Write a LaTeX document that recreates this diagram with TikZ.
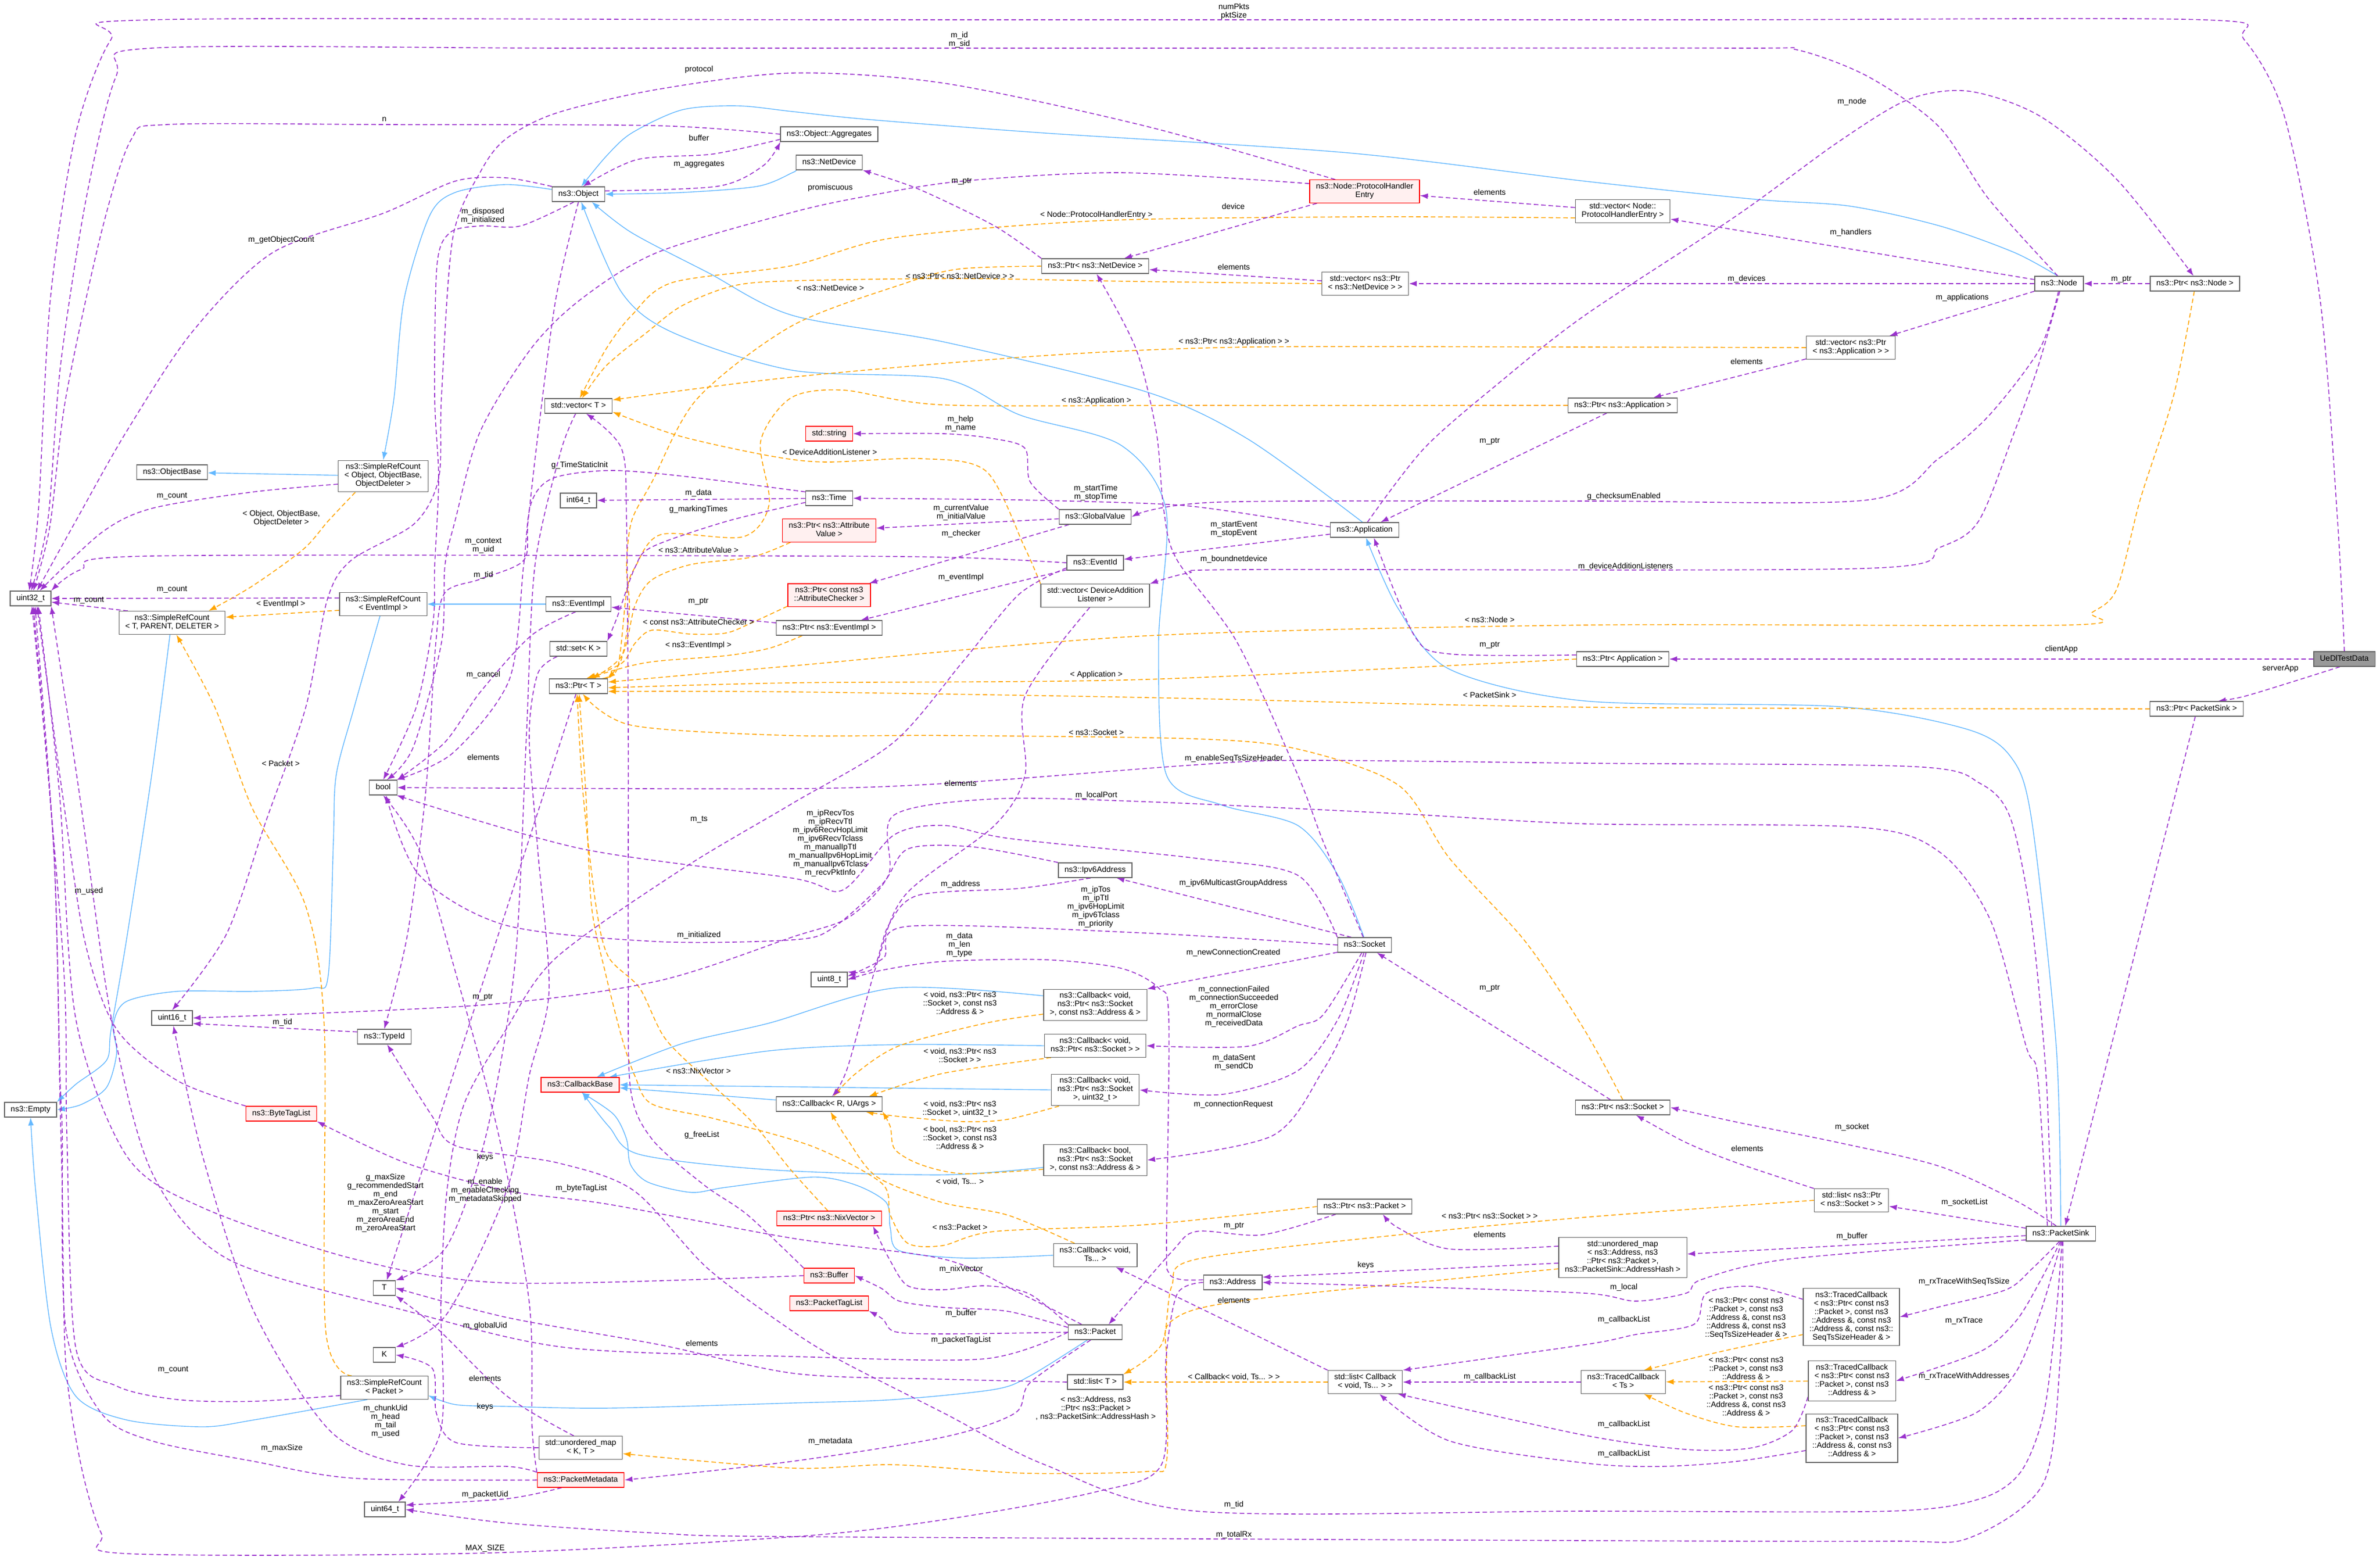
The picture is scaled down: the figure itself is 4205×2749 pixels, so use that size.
\documentclass[tikz,border=0pt]{standalone}
\usepackage{fontspec}
\setmainfont{Liberation Sans}
\usetikzlibrary{arrows.meta}
\definecolor{usecol}{HTML}{9A32CD}
\definecolor{instcol}{HTML}{FFA500}
\definecolor{inhcol}{HTML}{63B8FF}
\definecolor{boxborder}{HTML}{666666}
\definecolor{truncfill}{HTML}{FFF0F0}
\definecolor{selffill}{HTML}{999999}
\newcommand{\dgfont}{\fontsize{14}{15}\selectfont}
\pgfdeclarelayer{bg}
\pgfdeclarelayer{edges}
\pgfsetlayers{bg,edges,main}
\tikzset{
  clsbox/.style={draw=boxborder, fill=white, line width=1.3pt, inner xsep=11pt, inner ysep=5.5pt,
    minimum height=26pt, minimum width=39pt, align=center, font=\dgfont,
    execute at begin node=\strut, execute at end node=\strut},
  truncbox/.style={clsbox, draw=red, fill=truncfill},
  selfbox/.style={clsbox, fill=selffill},
  edgelbl/.style={font=\dgfont, align=center, inner sep=0pt},
  membedge/.style={draw=usecol, line width=1.6pt, dash pattern=on 8pt off 5pt, -{Latex[length=14pt,width=10pt]}},
  tmpledge/.style={draw=instcol, line width=1.6pt, dash pattern=on 8pt off 5pt, -{Latex[length=14pt,width=10pt]}},
  inhedge/.style={draw=inhcol, line width=1.4pt, -{Latex[length=14pt,width=10pt]}}
}
\begin{document}
\begin{tikzpicture}[x=1pt,y=-1pt]
\useasboundingbox (0,0) rectangle (4205,2749);
\begin{pgfonlayer}{bg}
\fill[white] (0,0) rectangle (4205,2749);
\end{pgfonlayer}
\node[clsbox] (obj) at (1022,343) {ns3::Object};
\node[clsbox] (aggr) at (1465,237) {ns3::Object::Aggregates};
\node[clsbox] (netdev) at (1465,287) {ns3::NetDevice};
\node[clsbox] (vect) at (1022,717) {std::vector< T >};
\node[clsbox] (objbase) at (304,834) {ns3::ObjectBase};
\node[clsbox] (srcobj) at (677,841) {ns3::SimpleRefCount\\< Object, ObjectBase,\\ObjectDeleter >};
\node[clsbox] (int64) at (1022,884) {int64\_t};
\node[clsbox] (uint32) at (54,1057) {uint32\_t};
\node[clsbox] (srct) at (304,1100) {ns3::SimpleRefCount\\< T, PARENT, DELETER >};
\node[clsbox] (srcev) at (677,1067) {ns3::SimpleRefCount\\< EventImpl >};
\node[clsbox] (evimpl) at (1022,1067) {ns3::EventImpl};
\node[clsbox] (setk) at (1022,1146) {std::set< K >};
\node[clsbox] (ptrt) at (1022,1212) {ns3::Ptr< T >};
\node[clsbox] (boolt) at (677,1391) {bool};
\node[clsbox] (uint16) at (304,1798) {uint16\_t};
\node[clsbox] (empty) at (54,1960) {ns3::Empty};
\node[clsbox] (typeid) at (679,1831) {ns3::TypeId};
\node[truncbox] (btl) at (497,1967) {ns3::ByteTagList};
\node[truncbox] (cbbase) at (1025,1916) {ns3::CallbackBase};
\node[clsbox] (tt) at (679,2275) {T};
\node[clsbox] (kk) at (679,2393) {K};
\node[clsbox] (srcpkt) at (679,2451) {ns3::SimpleRefCount\\< Packet >};
\node[clsbox] (umapkt) at (1026,2557) {std::unordered\_map\\< K, T >};
\node[truncbox] (pmeta) at (1026,2614) {ns3::PacketMetadata};
\node[clsbox] (uint64) at (680,2666) {uint64\_t};
\node[truncbox] (phe) at (2411,338) {ns3::Node::ProtocolHandler\\Entry};
\node[clsbox] (vecphe) at (2867,373) {std::vector< Node::\\ProtocolHandlerEntry >};
\node[clsbox] (ptrnd) at (1935,470) {ns3::Ptr< ns3::NetDevice >};
\node[clsbox] (vecnd) at (2412,501) {std::vector< ns3::Ptr\\< ns3::NetDevice > >};
\node[truncbox] (string) at (1465,766) {std::string};
\node[clsbox] (time) at (1465,880) {ns3::Time};
\node[clsbox] (gval) at (1935,913) {ns3::GlobalValue};
\node[truncbox] (ptrav) at (1465,937) {ns3::Ptr< ns3::Attribute\\Value >};
\node[truncbox] (ptrac) at (1465,1051) {ns3::Ptr< const ns3\\::AttributeChecker >};
\node[clsbox] (ptrev) at (1465,1109) {ns3::Ptr< ns3::EventImpl >};
\node[clsbox] (evid) at (1935,994) {ns3::EventId};
\node[clsbox] (vecdal) at (1935,1052) {std::vector< DeviceAddition\\Listener >};
\node[clsbox] (app) at (2411,936) {ns3::Application};
\node[clsbox] (node) at (3638,501) {ns3::Node};
\node[clsbox] (ptrnode) at (3878,501) {ns3::Ptr< ns3::Node >};
\node[clsbox] (vecapp) at (3270,614) {std::vector< ns3::Ptr\\< ns3::Application > >};
\node[clsbox] (ptrapp) at (2867,716) {ns3::Ptr< ns3::Application >};
\node[selfbox] (uedl) at (4142,1164) {UeDlTestData};
\node[clsbox] (ptrapp2) at (2867,1164) {ns3::Ptr< Application >};
\node[clsbox] (ptrsink) at (3881,1252) {ns3::Ptr< PacketSink >};
\node[clsbox] (ipv6) at (1935,1537) {ns3::Ipv6Address};
\node[clsbox] (socket) at (2411,1669) {ns3::Socket};
\node[clsbox] (uint8) at (1465,1730) {uint8\_t};
\node[clsbox] (cbsa) at (1935,1775) {ns3::Callback< void,\\ns3::Ptr< ns3::Socket\\>, const ns3::Address \& >};
\node[clsbox] (cbs) at (1935,1847) {ns3::Callback< void,\\ns3::Ptr< ns3::Socket > >};
\node[clsbox] (cbr) at (1465,1950) {ns3::Callback< R, UArgs >};
\node[clsbox] (cbsu) at (1935,1925) {ns3::Callback< void,\\ns3::Ptr< ns3::Socket\\>, uint32\_t >};
\node[clsbox] (cbb) at (1935,2049) {ns3::Callback< bool,\\ns3::Ptr< ns3::Socket\\>, const ns3::Address \& >};
\node[truncbox] (ptrnix) at (1465,2152) {ns3::Ptr< ns3::NixVector >};
\node[clsbox] (cbts) at (1935,2217) {ns3::Callback< void,\\Ts... >};
\node[truncbox] (buffer) at (1465,2253) {ns3::Buffer};
\node[truncbox] (ptl) at (1465,2302) {ns3::PacketTagList};
\node[clsbox] (packet) at (1935,2353) {ns3::Packet};
\node[clsbox] (listt) at (1935,2441) {std::list< T >};
\node[clsbox] (ptrpkt) at (2411,2131) {ns3::Ptr< ns3::Packet >};
\node[clsbox] (address) at (2178,2265) {ns3::Address};
\node[clsbox] (listcb) at (2412,2441) {std::list< Callback\\< void, Ts... > >};
\node[clsbox] (umapaddr) at (2867,2221) {std::unordered\_map\\< ns3::Address, ns3\\::Ptr< ns3::Packet >,\\ns3::PacketSink::AddressHash >};
\node[clsbox] (ptrsock) at (2867,1956) {ns3::Ptr< ns3::Socket >};
\node[clsbox] (listsock) at (3271,2120) {std::list< ns3::Ptr\\< ns3::Socket > >};
\node[clsbox] (sink) at (3641,2179) {ns3::PacketSink};
\node[clsbox] (tc1) at (3271,2326) {ns3::TracedCallback\\< ns3::Ptr< const ns3\\::Packet >, const ns3\\::Address \&, const ns3\\::Address \&, const ns3::\\SeqTsSizeHeader \& >};
\node[clsbox] (tcts) at (2868,2441) {ns3::TracedCallback\\< Ts >};
\node[clsbox] (tc2) at (3272,2439) {ns3::TracedCallback\\< ns3::Ptr< const ns3\\::Packet >, const ns3\\::Address \& >};
\node[clsbox] (tc3) at (3272,2540) {ns3::TracedCallback\\< ns3::Ptr< const ns3\\::Packet >, const ns3\\::Address \&, const ns3\\::Address \& >};
\begin{pgfonlayer}{edges}
\draw[inhedge] plot[smooth] coordinates {(obj.170) (893,326) (804,340) (759,381) (714,528) (696,704) (srcobj.north)};
\draw[inhedge] (srcobj) -- (objbase);
\draw[inhedge] (evimpl) -- (srcev);
\draw[inhedge] plot[smooth] coordinates {(srct.-100) (268,1369) (223,1663) (196,1820) (188,1873) (134,1915) (empty.north east)};
\draw[inhedge] plot[smooth] coordinates {(srcev.-105) (625,1252) (594,1369) (589,1487) (580,1722) (554,1745) (446,1751) (312,1751) (223,1769) (200,1810) (206,1861) (188,1921) (143,1951) (empty.east)};
\draw[inhedge] plot[smooth] coordinates {(srcpkt.-145) (448,2508) (358,2520) (224,2508) (134,2466) (90,2345) (63,2103) (empty.south)};
\draw[inhedge] plot[smooth] coordinates {(netdev.south west) (1400,305) (1339,329) (1205,340) (obj.east)};
\draw[inhedge] plot[smooth] coordinates {(node.100) (3559,446) (3427,399) (3268,364) (3101,352) (2800,320) (2382,270) (1846,235) (1534,211) (1400,197) (1304,187) (1205,194) (1116,235) (1071,276) (obj.70)};
\draw[inhedge] plot[smooth] coordinates {(app.105) (2204,775) (2025,692) (1668,604) (1400,557) (1250,481) (1116,411) (obj.-30)};
\draw[inhedge] plot[smooth] coordinates {(socket.95) (2364,1546) (2293,1458) (2159,1422) (2061,1369) (2047,1135) (2060,900) (1980,786) (1802,733) (1668,669) (1400,654) (1188,587) (1098,516) (obj.-70)};
\draw[inhedge] plot[smooth] coordinates {(sink.90) (3633,1849) (3589,1445) (3552,1336) (3472,1287) (3248,1248) (2800,1238) (2561,1182) (2471,1076) (app.-80)};
\draw[inhedge] plot[smooth] coordinates {(cbsa.170) (1581,1745) (1359,1807) (1206,1843) (cbbase.25)};
\draw[inhedge] plot[smooth] coordinates {(cbs.west) (1589,1845) (1359,1856) (cbbase.15)};
\draw[inhedge] (cbsu.west) -- (cbbase.east);
\draw[inhedge] (cbr) -- (cbbase);
\draw[inhedge] plot[smooth] coordinates {(cbb.-172) (1665,2075) (1359,2066) (1130,2039) (1076,1990) (cbbase.-75)};
\draw[inhedge] plot[smooth] coordinates {(cbts.west) (1703,2222) (1589,2209) (1573,2169) (1566,2124) (1512,2093) (1436,2079) (1283,2097) (1221,2106) (1145,2088) (1114,2057) (1107,2012) (1084,1968) (cbbase.-80)};
\draw[inhedge] plot[smooth] coordinates {(packet.-135) (1820,2430) (1757,2454) (1579,2472) (1400,2478) (1075,2487) (896,2484) (806,2481) (srcpkt.-10)};
\draw[tmpledge] plot[smooth] coordinates {(vecphe.-172) (2400,383) (1937,390) (1579,420) (1400,469) (1188,499) (1116,557) (1071,616) (vect.80)};
\draw[tmpledge] plot[smooth] coordinates {(vecnd.west) (2000,497) (1695,492) (1400,496) (1295,505) (1205,540) (1143,587) (1071,646) (vect.65)};
\draw[tmpledge] plot[smooth] coordinates {(ptrnd.west) (1695,475) (1600,500) (1400,575) (1232,704) (1152,851) (1116,920) (1107,1000) (1112,1076) (1098,1164) (ptrt.15)};
\draw[tmpledge] plot[smooth] coordinates {(vecapp.west) (2800,613) (2204,613) (1846,628) (1400,666) (vect.10)};
\draw[tmpledge] plot[smooth] coordinates {(ptrapp.west) (2100,716) (1665,715) (1489,689) (1397,703) (1344,779) (1359,890) (1313,948) (1168,944) (1122,1002) (1107,1046) (1091,1180) (ptrt.20)};
\draw[tmpledge] plot[smooth] coordinates {(vecdal.north west) (1810,966) (1742,832) (1627,810) (1458,816) (1359,805) (1200,770) (vect.-10)};
\draw[tmpledge] plot[smooth] coordinates {(ptrav.-163) (1328,984) (1221,997) (1152,1024) (1122,1069) (1099,1158) (ptrt.30)};
\draw[tmpledge] plot[smooth] coordinates {(ptrac.-165) (1328,1100) (1283,1118) (1221,1120) (1152,1113) (1122,1136) (1099,1171) (ptrt.40)};
\draw[tmpledge] plot[smooth] coordinates {(ptrev.-164) (1359,1145) (1283,1158) (1168,1167) (1114,1176) (ptrt.45)};
\draw[tmpledge] plot[smooth] coordinates {(ptrnode.-95) (3840,700) (3782,880) (3740,1040) (3696,1082) (3651,1104) (2800,1104) (2025,1123) (1400,1176) (ptrt.8)};
\draw[tmpledge] plot[smooth] coordinates {(ptrapp2.west) (2025,1200) (1400,1206) (ptrt.-3)};
\draw[tmpledge] plot[smooth] coordinates {(ptrsink.west) (2800,1249) (2025,1232) (1400,1222) (ptrt.-10)};
\draw[tmpledge] plot[smooth] coordinates {(ptrsock.north) (2800,1820) (2695,1663) (2561,1516) (2471,1387) (2293,1323) (2114,1305) (1668,1299) (1393,1299) (1116,1281) (ptrt.-60)};
\draw[tmpledge] plot[smooth] coordinates {(ptrnix.100) (1397,2066) (1328,1981) (1252,1910) (1175,1834) (1130,1745) (1075,1690) (1053,1600) (1030,1400) (ptrt.-100)};
\draw[tmpledge] plot[smooth] coordinates {(ptrpkt.west) (2025,2163) (1757,2175) (1665,2200) (1604,2196) (1573,2146) (1558,2090) (1436,2025) (1267,1977) (1152,1950) (1122,1901) (1099,1834) (1070,1720) (1045,1600) (1035,1400) (ptrt.-85)};
\draw[tmpledge] plot[smooth] coordinates {(cbsa.-170) (1742,1807) (1589,1847) (1512,1896) (cbr.60)};
\draw[tmpledge] plot[smooth] coordinates {(cbs.-165) (1665,1896) (cbr.11)};
\draw[tmpledge] plot[smooth] coordinates {(cbsu.-156) (1780,1977) (1703,1981) (1589,1972) (cbr.-12)};
\draw[tmpledge] plot[smooth] coordinates {(cbb.-170) (1703,2073) (1627,2057) (1581,2030) (1573,1990) (cbr.-8)};
\draw[tmpledge] plot[smooth] coordinates {(cbts.150) (1780,2146) (1665,2124) (1550,2079) (1497,2012) (cbr.-80)};
\draw[tmpledge] plot[smooth] coordinates {(listsock.west) (2800,2150) (2471,2181) (2114,2224) (2070,2272) (2052,2375) (listt.north east)};
\draw[tmpledge] plot[smooth] coordinates {(umapaddr.-170) (2204,2296) (2070,2333) (2061,2405) (2061,2581) (2025,2599) (1811,2602) (1579,2587) (1400,2593) (umapkt.-8)};
\draw[tmpledge] (listcb) -- (listt);
\draw[tmpledge] plot[smooth] coordinates {(tc1.-160) (3096,2375) (3015,2393) (tcts.30)};
\draw[tmpledge] (tc2) -- (tcts);
\draw[tmpledge] plot[smooth] coordinates {(tc3.165) (3069,2520) (2979,2496) (tcts.-30)};
\draw[tmpledge] plot[smooth] coordinates {(srcobj.-150) (580,920) (536,970) (446,1035) (srct.18)};
\draw[tmpledge] (srcev.-172) -- (srct.6);
\draw[tmpledge] plot[smooth] coordinates {(srcpkt.160) (575,2345) (573,1816) (540,1600) (446,1428) (380,1250) (srct.-70)};
\draw[membedge] plot[smooth] coordinates {(uedl.north) (4130,920) (4099,528) (4036,205) (3965,70) (3893,35) (3000,35) (1500,35) (268,35) (196,70) (134,235) (89,528) (68,900) (uint32.100)};
\draw[membedge] plot[smooth] coordinates {(node.100) (3514,352) (3425,223) (3300,135) (3175,88) (3068,85) (2000,85) (1000,85) (268,85) (205,135) (152,352) (107,645) (85,915) (uint32.85)};
\draw[membedge] plot[smooth] coordinates {(phe.158) (2025,223) (1668,147) (1400,129) (1161,158) (982,200) (893,246) (848,305) (800,420) (780,700) (775,845) (732,925) (620,990) (578,1060) (540,1250) (470,1450) (400,1650) (uint16.north)};
\draw[membedge] plot[smooth] coordinates {(aggr.west) (1161,222) (679,220) (295,220) (232,246) (179,411) (116,704) (88,930) (uint32.70)};
\draw[membedge] plot[smooth] coordinates {(aggr.186) (1260,272) (1125,282) (obj.60)};
\draw[membedge] plot[smooth] coordinates {(obj.7) (1268,329) (1348,293) (aggr.-171)};
\draw[membedge] plot[smooth] coordinates {(obj.north west) (893,314) (804,320) (679,376) (482,446) (339,587) (223,763) (134,920) (uint32.50)};
\draw[membedge] plot[smooth] coordinates {(obj.-120) (920,399) (848,399) (795,411) (772,469) (768,700) (775,845) (768,1000) (765,1100) (735,1250) (boolt.north)};
\draw[membedge] plot[smooth] coordinates {(obj.south) (982,528) (951,763) (933,920) (925,990) (848,1023) (786,1047) (770,1135) (752,1400) (720,1650) (typeid.north)};
\draw[membedge] plot[smooth] coordinates {(phe.172) (1980,305) (1699,320) (1534,346) (1400,375) (1161,446) (1027,528) (938,616) (848,763) (804,920) (786,1000) (780,1135) (730,1320) (boolt.65)};
\draw[membedge] plot[smooth] coordinates {(ptrnd.north west) (1757,399) (1623,334) (netdev.south east)};
\draw[membedge] (phe.-166) -- (ptrnd.15);
\draw[membedge] (vecphe) -- (phe);
\draw[membedge] (vecnd) -- (ptrnd);
\draw[membedge] (node) -- (vecphe);
\draw[membedge] (node) -- (vecnd);
\draw[membedge] (ptrnode) -- (node);
\draw[membedge] (node) -- (vecapp);
\draw[membedge] plot[smooth] coordinates {(app.70) (2516,792) (2650,675) (2800,557) (3068,381) (3246,252) (3371,176) (3478,161) (3604,205) (3740,317) (ptrnode.100)};
\draw[membedge] (vecapp) -- (ptrapp);
\draw[membedge] (ptrapp) -- (app);
\draw[membedge] plot[smooth] coordinates {(node.-95) (3604,616) (3514,734) (3425,810) (3300,883) (2800,885) (2150,887) (gval.east)};
\draw[membedge] plot[smooth] coordinates {(gval.north west) (1820,851) (1811,792) (1757,775) (1668,766) (string.east)};
\draw[membedge] (gval) -- (ptrav);
\draw[membedge] (gval) -- (ptrac);
\draw[membedge] (evid) -- (ptrev);
\draw[membedge] plot[smooth] coordinates {(app.175) (2152,900) (2046,890) (1801,883) (time.east)};
\draw[membedge] (time) -- (int64);
\draw[membedge] (app) -- (evid);
\draw[membedge] plot[smooth] coordinates {(socket.100) (2338,1487) (2293,1369) (2186,1135) (2079,988) (2056,900) (2043,763) (2007,616) (ptrnd.-80)};
\draw[membedge] plot[smooth] coordinates {(node.-85) (3600,650) (3559,763) (3496,920) (3427,967) (3293,1004) (2205,1006) (2100,1012) (vecdal.north east)};
\draw[membedge] (ptrev) -- (evimpl);
\draw[membedge] plot[smooth] coordinates {(evid.west) (1700,985) (1400,982) (268,982) (143,1006) (uint32.north east)};
\draw[membedge] (srcev.172) -- (uint32.east);
\draw[membedge] (srct.165) -- (uint32.-10);
\draw[membedge] plot[smooth] coordinates {(srcobj.-170) (446,869) (268,898) (179,941) (uint32.40)};
\draw[membedge] plot[smooth] coordinates {(evimpl.-110) (938,1123) (848,1223) (786,1311) (boolt.north east)};
\draw[membedge] plot[smooth] coordinates {(time.-170) (1283,921) (1152,966) (1122,1002) (1090,1091) (setk.north east)};
\draw[membedge] plot[smooth] coordinates {(time.165) (1206,841) (1076,831) (976,845) (938,890) (925,1000) (900,1200) (800,1330) (boolt.30)};
\draw[membedge] plot[smooth] coordinates {(setk.-160) (950,1190) (935,1300) (950,1500) (970,1750) (935,1900) (896,2100) (790,2320) (kk.north east)};
\draw[membedge] plot[smooth] coordinates {(vect.-110) (990,800) (945,1000) (930,1300) (910,1700) (860,2000) (790,2200) (tt.north east)};
\draw[membedge] plot[smooth] coordinates {(buffer.north west) (1321,2146) (1244,2093) (1152,2012) (1114,1923) (1110,1700) (1110,1300) (1107,920) (1098,792) (vect.-45)};
\draw[membedge] (ptrt) -- (tt);
\draw[membedge] plot[smooth] coordinates {(listt.west) (1668,2436) (1405,2426) (1165,2375) (896,2327) (tt.east)};
\draw[membedge] plot[smooth] coordinates {(umapkt.120) (896,2466) (771,2345) (tt.south east)};
\draw[membedge] plot[smooth] coordinates {(umapkt.west) (806,2548) (771,2496) (764,2417) (kk.east)};
\draw[membedge] plot[smooth] coordinates {(pmeta.-158) (896,2647) (uint64.12)};
\draw[membedge] plot[smooth] coordinates {(pmeta.north west) (940,2520) (935,2300) (880,2000) (800,1700) (740,1500) (boolt.south)};
\draw[membedge] plot[smooth] coordinates {(pmeta.170) (896,2590) (717,2587) (582,2526) (448,2315) (358,2042) (uint16.-80)};
\draw[membedge] plot[smooth] coordinates {(pmeta.west) (627,2611) (448,2581) (269,2545) (179,2496) (116,2345) (110,2000) (106,1900) (95,1500) (uint32.-60)};
\draw[membedge] plot[smooth] coordinates {(srcpkt.-170) (448,2475) (314,2472) (206,2448) (134,2381) (118,2000) (112,1700) (uint32.-70)};
\draw[membedge] plot[smooth] coordinates {(btl.north west) (314,1909) (206,1818) (150,1663) (110,1400) (uint32.-50)};
\draw[membedge] plot[smooth] coordinates {(buffer.west) (896,2266) (627,2224) (358,2133) (224,2042) (134,1800) (105,1400) (uint32.-45)};
\draw[membedge] plot[smooth] coordinates {(packet.west) (1739,2400) (1405,2396) (1000,2380) (717,2315) (403,2224) (269,2072) (197,1800) (140,1400) (uint32.south east)};
\draw[membedge] plot[smooth] coordinates {(address.west) (2080,2285) (2060,2400) (2052,2587) (1936,2635) (1668,2684) (1405,2714) (857,2743) (224,2744) (179,2708) (143,2587) (116,2405) (110,2100) (106,1940) (95,1500) (uint32.-80)};
\draw[membedge] plot[smooth] coordinates {(address.175) (2087,2260) (2065,2248) (2061,2193) (2065,1800) (2047,1745) (1980,1710) (1846,1695) (1668,1698) (1561,1713) (uint8.east)};
\draw[membedge] plot[smooth] coordinates {(ipv6.-120) (1802,1569) (1623,1581) (1570,1634) (1543,1710) (uint8.north east)};
\draw[membedge] plot[smooth] coordinates {(ipv6.north west) (1721,1496) (1605,1499) (1560,1560) (1470,1640) (1400,1660) (1161,1663) (893,1634) (741,1546) (boolt.-70)};
\draw[membedge] plot[smooth] coordinates {(socket.north west) (2293,1546) (2114,1516) (1784,1481) (1668,1458) (1579,1475) (1489,1572) (1400,1551) (1027,1499) (boolt.-30)};
\draw[membedge] plot[smooth] coordinates {(socket.west) (2025,1648) (1605,1636) (1561,1692) (uint8.10)};
\draw[membedge] (socket.150) -- (ipv6.-20);
\draw[membedge] (socket.-165) -- (cbsa.north east);
\draw[membedge] plot[smooth] coordinates {(socket.-110) (2338,1792) (2293,1812) (2204,1848) (cbs.east)};
\draw[membedge] plot[smooth] coordinates {(socket.-95) (2364,1800) (2293,1891) (2159,1933) (cbsu.east)};
\draw[membedge] plot[smooth] coordinates {(socket.-80) (2382,1800) (2337,1891) (2248,2006) (cbb.east)};
\draw[membedge] (ptrsock) -- (socket);
\draw[membedge] plot[smooth] coordinates {(sink.120) (3562,2121) (3427,2060) (3248,2018) (3069,1982) (ptrsock.east)};
\draw[membedge] plot[smooth] coordinates {(listsock.north west) (3069,2054) (2979,2018) (ptrsock.-30)};
\draw[membedge] (sink) -- (listsock);
\draw[membedge] (sink) -- (umapaddr);
\draw[membedge] plot[smooth] coordinates {(sink.-170) (3158,2224) (3006,2260) (2979,2284) (2890,2298) (2800,2284) (2471,2272) (address.east)};
\draw[membedge] (umapaddr.185) -- (address.10);
\draw[membedge] plot[smooth] coordinates {(umapaddr.170) (2561,2206) (2471,2169) (ptrpkt.-23)};
\draw[membedge] plot[smooth] coordinates {(ptrpkt.-165) (2230,2181) (2114,2175) (2070,2211) (packet.30)};
\draw[membedge] (listcb.north west) -- (cbts.-30);
\draw[membedge] plot[smooth] coordinates {(tc1.160) (3096,2272) (3015,2284) (2993,2339) (2890,2357) (2800,2375) (listcb.north east)};
\draw[membedge] (tcts) -- (listcb);
\draw[membedge] plot[smooth] coordinates {(tc2.-160) (3167,2526) (3096,2557) (2979,2560) (2800,2535) (listcb.-20)};
\draw[membedge] plot[smooth] coordinates {(tc3.-165) (3069,2581) (2934,2590) (2800,2584) (2561,2545) (listcb.-40)};
\draw[membedge] plot[smooth] coordinates {(sink.-100) (3589,2242) (3544,2278) (3427,2308) (tc1.east)};
\draw[membedge] plot[smooth] coordinates {(sink.-92) (3606,2260) (3562,2333) (3499,2387) (tc2.east)};
\draw[membedge] plot[smooth] coordinates {(sink.-85) (3606,2315) (3562,2423) (3490,2496) (tc3.east)};
\draw[membedge] plot[smooth] coordinates {(sink.-80) (3630,2350) (3610,2500) (3570,2600) (3499,2647) (3338,2669) (2800,2669) (2114,2669) (1846,2587) (1668,2496) (1489,2405) (1400,2351) (1250,2240) (1120,2103) (986,2054) (806,2024) (762,1969) (typeid.-70)};
\draw[membedge] plot[smooth] coordinates {(sink.-75) (3640,2400) (3610,2620) (3480,2716) (3338,2722) (2800,2721) (1405,2714) (1165,2708) (896,2690) (uint64.east)};
\draw[membedge] plot[smooth] coordinates {(evid.-170) (1800,1050) (1700,1170) (1579,1311) (1400,1419) (1205,1535) (982,1692) (893,1820) (820,1950) (790,2100) (779,2300) (779,2526) (uint64.30)};
\draw[membedge] (typeid.170) -- (uint16.-15);
\draw[membedge] plot[smooth] coordinates {(packet.north west) (1818,2285) (1742,2271) (1665,2278) (1604,2271) (1573,2227) (ptrnix.-10)};
\draw[membedge] plot[smooth] coordinates {(packet.170) (1780,2316) (1665,2309) (1589,2298) (1558,2276) (buffer.east)};
\draw[membedge] plot[smooth] coordinates {(packet.west) (1665,2356) (1581,2352) (1560,2330) (ptl.south east)};
\draw[membedge] plot[smooth] coordinates {(packet.150) (1802,2284) (1668,2224) (1400,2187) (1075,2127) (896,2103) (717,2054) (btl.south east)};
\draw[membedge] plot[smooth] coordinates {(packet.-120) (1820,2442) (1793,2496) (1668,2538) (1400,2581) (pmeta.east)};
\draw[membedge] plot[smooth] coordinates {(vecdal.-115) (1811,1229) (1811,1369) (1757,1458) (1600,1580) (1550,1700) (1497,1887) (cbr.70)};
\draw[membedge] plot[smooth] coordinates {(sink.140) (3615,1900) (3589,1626) (3552,1445) (3499,1384) (3382,1354) (2800,1348) (2293,1343) (2096,1352) (1700,1382) (1400,1393) (boolt.east)};
\draw[membedge] plot[smooth] coordinates {(sink.150) (3600,1900) (3580,1849) (3517,1626) (3427,1505) (3284,1461) (2800,1455) (2471,1437) (2025,1416) (1757,1411) (1579,1440) (1570,1545) (1500,1620) (1400,1655) (1161,1733) (853,1775) (uint16.east)};
\draw[membedge] plot[smooth] coordinates {(ptrapp2.175) (2561,1155) (2499,1123) (app.-40)};
\draw[membedge] (ptrsink.-100) -- (sink.60);
\draw[membedge] (uedl) -- (ptrapp2);
\draw[membedge] plot[smooth] coordinates {(uedl.-120) (4054,1203) (3965,1230) (ptrsink.20)};
\end{pgfonlayer}
\node[edgelbl] (l1) at (2180,20) {numPkts\\pktSize};
\node[edgelbl] (l2) at (1695,70) {m\_id\\m\_sid};
\node[edgelbl] (l3) at (1235,123) {protocol};
\node[edgelbl] (l4) at (679,211) {n};
\node[edgelbl] (l5) at (1235,243) {buffer};
\node[edgelbl] (l6) at (1235,290) {m\_aggregates};
\node[edgelbl] (l7) at (497,424) {m\_getObjectCount};
\node[edgelbl] (l8) at (853,381) {m\_disposed\\m\_initialized};
\node[edgelbl] (l9) at (1467,332) {promiscuous};
\node[edgelbl] (l10) at (1699,320) {m\_ptr};
\node[edgelbl] (l11) at (2179,364) {device};
\node[edgelbl] (l12) at (2632,339) {elements};
\node[edgelbl] (l13) at (1937,380) {< Node::ProtocolHandlerEntry >};
\node[edgelbl] (l14) at (1696,487) {< ns3::Ptr< ns3::NetDevice > >};
\node[edgelbl] (l15) at (1467,508) {< ns3::NetDevice >};
\node[edgelbl] (l16) at (2180,471) {elements};
\node[edgelbl] (l17) at (3270,411) {m\_handlers};
\node[edgelbl] (l18) at (3086,493) {m\_devices};
\node[edgelbl] (l19) at (3748,493) {m\_ptr};
\node[edgelbl] (l20) at (3467,526) {m\_applications};
\node[edgelbl] (l21) at (3272,180) {m\_node};
\node[edgelbl] (l22) at (3086,638) {elements};
\node[edgelbl] (l23) at (2180,604) {< ns3::Ptr< ns3::Application > >};
\node[edgelbl] (l24) at (1937,708) {< ns3::Application >};
\node[edgelbl] (l25) at (2632,779) {m\_ptr};
\node[edgelbl] (l26) at (2869,877) {g\_checksumEnabled};
\node[edgelbl] (l27) at (1697,748) {m\_help\\m\_name};
\node[edgelbl] (l28) at (1466,798) {< DeviceAdditionListener >};
\node[edgelbl] (l29) at (1024,822) {g\_TimeStaticInit};
\node[edgelbl] (l30) at (1234,871) {m\_data};
\node[edgelbl] (l31) at (1234,900) {g\_markingTimes};
\node[edgelbl] (l32) at (1936,870) {m\_startTime\\m\_stopTime};
\node[edgelbl] (l33) at (1698,905) {m\_currentValue\\m\_initialValue};
\node[edgelbl] (l34) at (1698,943) {m\_checker};
\node[edgelbl] (l35) at (1234,971) {< ns3::AttributeValue >};
\node[edgelbl] (l36) at (854,964) {m\_context\\m\_uid};
\node[edgelbl] (l37) at (2180,935) {m\_startEvent\\m\_stopEvent};
\node[edgelbl] (l38) at (2180,988) {m\_boundnetdevice};
\node[edgelbl] (l39) at (2872,1001) {m\_deviceAdditionListeners};
\node[edgelbl] (l40) at (1698,1020) {m\_eventImpl};
\node[edgelbl] (l41) at (854,1016) {m\_tid};
\node[edgelbl] (l42) at (304,1041) {m\_count};
\node[edgelbl] (l43) at (157,1060) {m\_count};
\node[edgelbl] (l44) at (496,1067) {< EventImpl >};
\node[edgelbl] (l45) at (497,915) {< Object, ObjectBase,\\ObjectDeleter >};
\node[edgelbl] (l46) at (304,876) {m\_count};
\node[edgelbl] (l47) at (1234,1062) {m\_ptr};
\node[edgelbl] (l48) at (1234,1098) {< const ns3::AttributeChecker >};
\node[edgelbl] (l49) at (1234,1140) {< ns3::EventImpl >};
\node[edgelbl] (l50) at (2632,1094) {< ns3::Node >};
\node[edgelbl] (l51) at (2632,1139) {m\_ptr};
\node[edgelbl] (l52) at (3642,1147) {clientApp};
\node[edgelbl] (l53) at (4029,1181) {serverApp};
\node[edgelbl] (l54) at (854,1192) {m\_cancel};
\node[edgelbl] (l55) at (1937,1192) {< Application >};
\node[edgelbl] (l56) at (2632,1227) {< PacketSink >};
\node[edgelbl] (l57) at (1937,1293) {< ns3::Socket >};
\node[edgelbl] (l58) at (2180,1340) {m\_enableSeqTsSizeHeader};
\node[edgelbl] (l59) at (1697,1383) {elements};
\node[edgelbl] (l60) at (854,1337) {elements};
\node[edgelbl] (l61) at (496,1348) {< Packet >};
\node[edgelbl] (l62) at (1235,1447) {m\_ts};
\node[edgelbl] (l63) at (1937,1405) {m\_localPort};
\node[edgelbl] (l64) at (1467,1489) {m\_ipRecvTos\\m\_ipRecvTtl\\m\_ipv6RecvHopLimit\\m\_ipv6RecvTclass\\m\_manualIpTtl\\m\_manualIpv6HopLimit\\m\_manualIpv6Tclass\\m\_recvPktInfo};
\node[edgelbl] (l65) at (1697,1562) {m\_address};
\node[edgelbl] (l66) at (2179,1560) {m\_ipv6MulticastGroupAddress};
\node[edgelbl] (l67) at (1936,1602) {m\_ipTos\\m\_ipTtl\\m\_ipv6HopLimit\\m\_ipv6Tclass\\m\_priority};
\node[edgelbl] (l68) at (1235,1652) {m\_initialized};
\node[edgelbl] (l69) at (1695,1669) {m\_data\\m\_len\\m\_type};
\node[edgelbl] (l70) at (2179,1683) {m\_newConnectionCreated};
\node[edgelbl] (l71) at (157,1574) {m\_used};
\node[edgelbl] (l72) at (853,1761) {m\_ptr};
\node[edgelbl] (l73) at (2632,1745) {m\_ptr};
\node[edgelbl] (l74) at (2180,1778) {m\_connectionFailed\\m\_connectionSucceeded\\m\_errorClose\\m\_normalClose\\m\_receivedData};
\node[edgelbl] (l75) at (1696,1771) {< void, ns3::Ptr< ns3\\::Socket >, const ns3\\::Address \& >};
\node[edgelbl] (l76) at (499,1806) {m\_tid};
\node[edgelbl] (l77) at (1696,1864) {< void, ns3::Ptr< ns3\\::Socket > >};
\node[edgelbl] (l78) at (2180,1876) {m\_dataSent\\m\_sendCb};
\node[edgelbl] (l79) at (1234,1891) {< ns3::NixVector >};
\node[edgelbl] (l80) at (2179,1951) {m\_connectionRequest};
\node[edgelbl] (l81) at (1696,1958) {< void, ns3::Ptr< ns3\\::Socket >, uint32\_t >};
\node[edgelbl] (l82) at (3272,1991) {m\_socket};
\node[edgelbl] (l83) at (1240,2005) {g\_freeList};
\node[edgelbl] (l84) at (1696,2009) {< bool, ns3::Ptr< ns3\\::Socket >, const ns3\\::Address \& >};
\node[edgelbl] (l85) at (3087,2028) {elements};
\node[edgelbl] (l86) at (857,2044) {keys};
\node[edgelbl] (l87) at (857,2103) {m\_enable\\m\_enableChecking\\m\_metadataSkipped};
\node[edgelbl] (l88) at (1027,2099) {m\_byteTagList};
\node[edgelbl] (l89) at (681,2125) {g\_maxSize\\g\_recommendedStart\\m\_end\\m\_maxZeroAreaStart\\m\_start\\m\_zeroAreaEnd\\m\_zeroAreaStart};
\node[edgelbl] (l90) at (1696,2087) {< void, Ts... >};
\node[edgelbl] (l91) at (3471,2124) {m\_socketList};
\node[edgelbl] (l92) at (2632,2147) {< ns3::Ptr< ns3::Socket > >};
\node[edgelbl] (l93) at (2180,2165) {m\_ptr};
\node[edgelbl] (l94) at (1696,2167) {< ns3::Packet >};
\node[edgelbl] (l95) at (2632,2180) {elements};
\node[edgelbl] (l96) at (3272,2184) {m\_buffer};
\node[edgelbl] (l97) at (2413,2235) {keys};
\node[edgelbl] (l98) at (1698,2242) {m\_nixVector};
\node[edgelbl] (l99) at (3470,2264) {m\_rxTraceWithSeqTsSize};
\node[edgelbl] (l100) at (2869,2274) {m\_local};
\node[edgelbl] (l101) at (2180,2296) {elements};
\node[edgelbl] (l102) at (1698,2320) {m\_buffer};
\node[edgelbl] (l103) at (3085,2328) {< ns3::Ptr< const ns3\\::Packet >, const ns3\\::Address \&, const ns3\\::Address \&, const ns3\\::SeqTsSizeHeader \& >};
\node[edgelbl] (l104) at (2869,2331) {m\_callbackList};
\node[edgelbl] (l105) at (3470,2333) {m\_rxTrace};
\node[edgelbl] (l106) at (857,2342) {m\_globalUid};
\node[edgelbl] (l107) at (1698,2367) {m\_packetTagList};
\node[edgelbl] (l108) at (1240,2372) {elements};
\node[edgelbl] (l109) at (3085,2417) {< ns3::Ptr< const ns3\\::Packet >, const ns3\\::Address \& >};
\node[edgelbl] (l110) at (3470,2431) {m\_rxTraceWithAddresses};
\node[edgelbl] (l111) at (2180,2432) {< Callback< void, Ts... > >};
\node[edgelbl] (l112) at (2632,2432) {m\_callbackList};
\node[edgelbl] (l113) at (857,2434) {elements};
\node[edgelbl] (l114) at (3085,2473) {< ns3::Ptr< const ns3\\::Packet >, const ns3\\::Address \&, const ns3\\::Address \& >};
\node[edgelbl] (l115) at (1936,2487) {< ns3::Address, ns3\\::Ptr< ns3::Packet >\\, ns3::PacketSink::AddressHash >};
\node[edgelbl] (l116) at (857,2485) {keys};
\node[edgelbl] (l117) at (681,2510) {m\_chunkUid\\m\_head\\m\_tail\\m\_used};
\node[edgelbl] (l118) at (306,2419) {m\_count};
\node[edgelbl] (l119) at (2869,2516) {m\_callbackList};
\node[edgelbl] (l120) at (2869,2568) {m\_callbackList};
\node[edgelbl] (l121) at (498,2558) {m\_maxSize};
\node[edgelbl] (l122) at (1467,2546) {m\_metadata};
\node[edgelbl] (l123) at (857,2640) {m\_packetUid};
\node[edgelbl] (l124) at (2180,2658) {m\_tid};
\node[edgelbl] (l125) at (2180,2711) {m\_totalRx};
\node[edgelbl] (l126) at (857,2735) {MAX\_SIZE};
\end{tikzpicture}
\end{document}
